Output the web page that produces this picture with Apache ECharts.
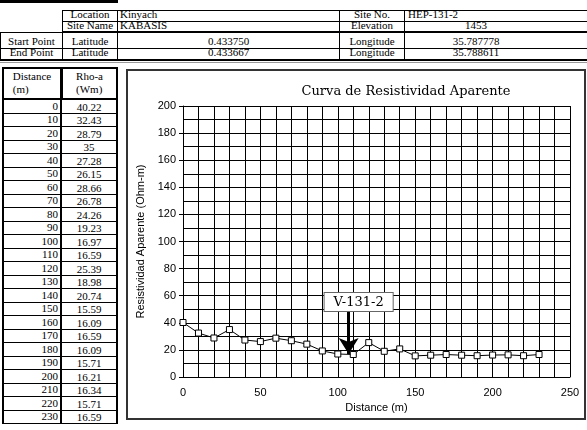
<!DOCTYPE html>
<html>
<head>
<meta charset="utf-8">
<script src="https://cdn.jsdelivr.net/npm/echarts@6/dist/echarts.min.js"></script>
<style>
html,body{margin:0;padding:0;background:#fff;width:587px;height:430px;overflow:hidden;}
#wrap{position:relative;width:587px;height:430px;}
.c{position:absolute;box-sizing:border-box;font-family:"Liberation Serif","DejaVu Serif",serif;font-size:11px;color:#000;display:flex;align-items:flex-end;padding:0 2px 1px 2px;white-space:nowrap;overflow:hidden;line-height:11px;}
.b{border:1px solid #000;}
#chart{position:absolute;left:0;top:0;width:587px;height:430px;}
</style>
</head>
<body>
<div id="wrap"><div id="chart"></div></div>
<script>
// ---- data ----
var distance = [0,10,20,30,40,50,60,70,80,90,100,110,120,130,140,150,160,170,180,190,200,210,220,230];
var rhoA = [40.22,32.43,28.79,35,27.28,26.15,28.66,26.78,24.26,19.23,16.97,16.59,25.39,18.98,20.74,15.59,16.09,16.59,16.09,15.71,16.21,16.34,15.71,16.59];
var rhoText = ["40.22","32.43","28.79","35","27.28","26.15","28.66","26.78","24.26","19.23","16.97","16.59","25.39","18.98","20.74","15.59","16.09","16.59","16.09","15.71","16.21","16.34","15.71","16.59"];
var infoLabels = ["Location","Site Name","Latitude","Latitude"];
var infoValues = ["Kinyach","KABASIS","0.433750","0.433667"];
var infoLabels2 = ["Site No.","Elevation","Longitude","Longitude"];
var infoValues2 = ["HEP-131-2","1453","35.787778","35.788611"];
var pointLabels = ["Start Point","End Point"];
var headers = [["Distance","(m)"],["Rho-a","(Wm)"]];
var chartTitle = "Curva de Resistividad Aparente";
var yName = "Resistividad Aparente (Ohm-m)";
var xName = "Distance (m)";
var annotationText = "V-131-2";
var annotationX = 107, annotationTop = 48, annotationTip = 17;

// ---- table (HTML) ----
var wrap = document.getElementById('wrap');
function cell(x, y, w, h, text, align, extra) {
  var d = document.createElement('div');
  d.className = 'c' + (extra && extra.noBorder ? '' : ' b');
  d.style.left = x + 'px'; d.style.top = y + 'px';
  d.style.width = w + 'px'; d.style.height = h + 'px';
  d.style.justifyContent = align === 'left' ? 'flex-start' : (align === 'right' ? 'flex-end' : 'center');
  if (extra && extra.style) for (var k in extra.style) d.style[k] = extra.style[k];
  if (Array.isArray(text)) { d.innerHTML = text.join('<br>'); d.style.flexDirection='column'; d.style.justifyContent='center'; d.style.alignItems='center'; d.style.lineHeight='13px'; }
  else d.textContent = text;
  wrap.insertBefore(d, document.getElementById('chart'));
  return d;
}
// black bar top-left
cell(0, 0, 118, 3, '', 'left', {noBorder:true, style:{background:'#000'}});
var rowY = [10, 21, 32, 48], rowH = [12, 12, 17, 12];
var colX = [0, 62, 117, 339, 404], colW = [63, 56, 223, 66, 200];
for (var r = 0; r < 4; r++) {
  if (r >= 2) cell(colX[0], rowY[r], colW[0], rowH[r], pointLabels[r-2], 'center');
  cell(colX[1], rowY[r], colW[1], rowH[r], infoLabels[r], 'center');
  cell(colX[2], rowY[r], colW[2], rowH[r], infoValues[r], r < 2 ? 'left' : 'center');
  cell(colX[3], rowY[r], colW[3], rowH[r], infoLabels2[r], 'center');
  var c = cell(colX[4], rowY[r], colW[4], rowH[r], '', 'left');
  var s = document.createElement('span');
  s.textContent = infoValues2[r];
  if (r === 0) { s.style.marginLeft = '1px'; }
  else { s.style.display='inline-block'; s.style.width='138px'; s.style.textAlign='center'; }
  c.appendChild(s);
}
// thick separators
cell(62, 31, 525, 2, '', 'left', {noBorder:true, style:{background:'#000'}});
cell(0, 59, 587, 2, '', 'left', {noBorder:true, style:{background:'#000'}});
cell(0, 62, 587, 1, '', 'left', {noBorder:true, style:{background:'#999'}});
// data table header
cell(2, 67, 60, 33, headers[0], 'center', {style:{borderWidth:'2px'}});
cell(61, 67, 57, 33, headers[1], 'center', {style:{borderWidth:'2px'}});
var rowH0 = 13.5, y0 = 99;
for (var i = 0; i < distance.length; i++) {
  var yy = Math.round(y0 + i * rowH0);
  var hh = Math.round(y0 + (i + 1) * rowH0) - yy + 1;
  cell(2, yy, 60, hh, String(distance[i]), 'right', {style:{borderLeftWidth:'2px', borderRightWidth:'2px'}});
  cell(61, yy, 57, hh, rhoText[i], 'center', {style:{borderRightWidth:'2px', paddingBottom:'0px'}});
}

// ---- chart ----
var chart = echarts.init(document.getElementById('chart'), null, {renderer:'canvas'});
var seriesData = distance.map(function (d, i) { return [d, rhoA[i]]; });
var axisFont = {fontFamily:'Liberation Sans, Arial, sans-serif', fontSize:11, color:'#000'};
chart.setOption({
  animation: false,
  graphic: [{
    type:'rect', z:-10, shape:{x:127, y:70, width:458, height:349},
    style:{fill:'#fff', stroke:'#333', lineWidth:2}
  }],
  title: {
    text: chartTitle, left: 401, top: 80, textAlign: 'center',
    textStyle: {fontFamily:'DejaVu Serif, serif', fontSize:13, fontWeight:'normal', color:'#000'}
  },
  grid: {left:183, top:106, right:17, bottom:53, containLabel:false},
  xAxis: {
    type:'value', min:0, max:250, interval:50,
    name: xName, nameLocation:'middle', nameGap:9,
    nameTextStyle: {fontFamily:'Liberation Sans, Arial, sans-serif', fontSize:11, color:'#000'},
    axisLine:{show:true, lineStyle:{color:'#000', width:1}},
    axisTick:{show:false},
    axisLabel: Object.assign({margin:10}, axisFont),
    splitLine:{show:true, lineStyle:{color:'#000', width:1}},
    minorTick:{show:false, splitNumber:5},
    minorSplitLine:{show:true, lineStyle:{color:'#000', width:1}}
  },
  yAxis: {
    type:'value', min:0, max:200, interval:20,
    name: yName, nameLocation:'middle', nameGap:35, nameRotate:90,
    nameTextStyle: {fontFamily:'Liberation Sans, Arial, sans-serif', fontSize:11, color:'#000'},
    axisLine:{show:true, lineStyle:{color:'#000', width:1}},
    axisTick:{show:true, inside:false, length:4, lineStyle:{color:'#000'}},
    axisLabel: Object.assign({margin:7}, axisFont),
    splitLine:{show:true, lineStyle:{color:'#000', width:1}},
    minorTick:{show:false, splitNumber:2},
    minorSplitLine:{show:true, lineStyle:{color:'#000', width:1}}
  },
  series: [{
    type:'line', data: seriesData,
    symbol:'rect', symbolSize:6, showSymbol:true,
    lineStyle:{color:'#000', width:1},
    itemStyle:{color:'#fff', borderColor:'#000', borderWidth:1},
    z: 5,
    markLine: {
      silent:true, animation:false,
      symbol:['none','arrow'], symbolSize:[15,16],
      lineStyle:{color:'#000', width:3, type:'solid'},
      label:{
        show:true, position:'start', formatter: annotationText, distance:1,
        fontFamily:'DejaVu Serif, serif', fontSize:13, color:'#000',
        backgroundColor:'#fff', borderColor:'#666', borderWidth:1,
        padding:[3,9,2,9], offset:[10,0]
      },
      emphasis:{disabled:true},
      data: [[{coord:[annotationX, annotationTop]}, {coord:[annotationX, annotationTip]}]]
    }
  }]
});
</script>
</body>
</html>
